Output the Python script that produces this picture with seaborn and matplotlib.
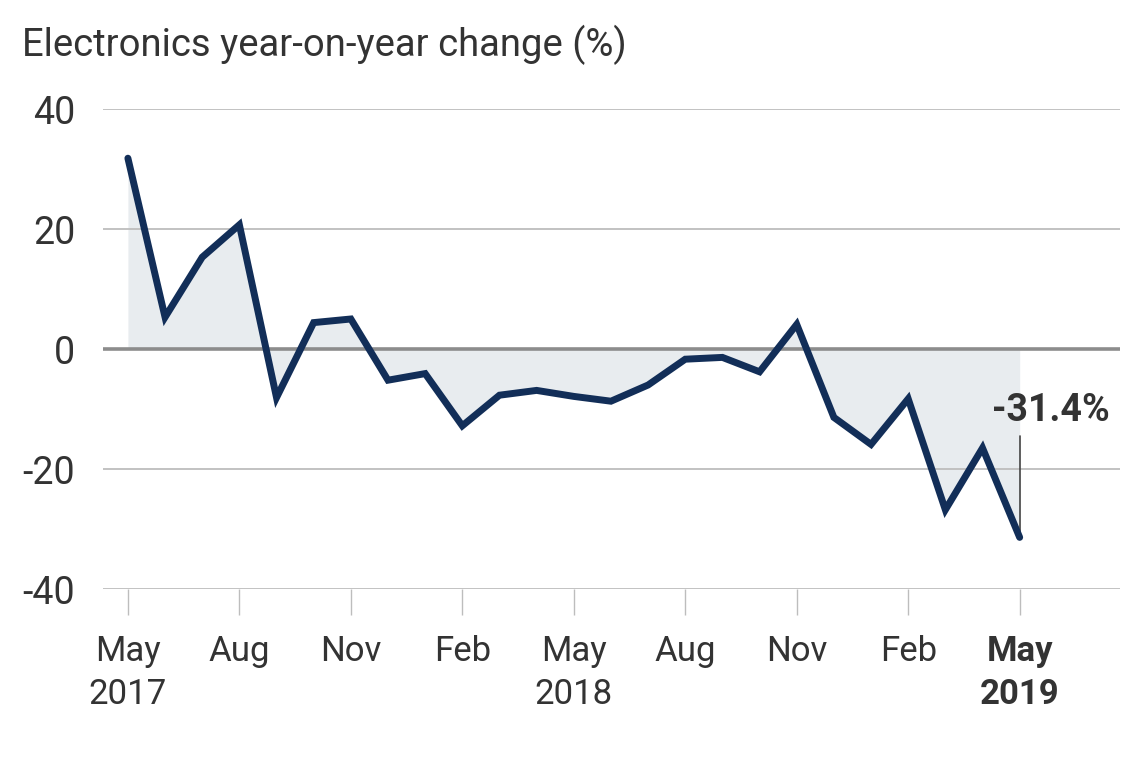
import matplotlib
matplotlib.use("Agg")
import matplotlib.pyplot as plt
import seaborn as sns
import pandas as pd

months = ["May 2017", "Jun 2017", "Jul 2017", "Aug 2017", "Sep 2017", "Oct 2017",
          "Nov 2017", "Dec 2017", "Jan 2018", "Feb 2018", "Mar 2018", "Apr 2018",
          "May 2018", "Jun 2018", "Jul 2018", "Aug 2018", "Sep 2018", "Oct 2018",
          "Nov 2018", "Dec 2018", "Jan 2019", "Feb 2019", "Mar 2019", "Apr 2019",
          "May 2019"]
values = [31.8, 5.3, 15.3, 20.7, -8.1, 4.4, 5.0, -5.2, -4.1, -12.8, -7.7, -6.9,
          -7.9, -8.7, -6.0, -1.7, -1.4, -3.8, 4.1, -11.4, -15.9, -8.3, -26.8, -16.5,
          -31.4]
tick_labels = ["May\n2017", "Aug", "Nov", "Feb", "May\n2018", "Aug", "Nov", "Feb", "May\n2019"]
y_ticks = [40, 20, 0, -20, -40]
title = "Electronics year-on-year change (%)"
annotation = "-31.4%"

sns.set_theme(style="white")
plt.rcParams["font.family"] = ["Roboto", "DejaVu Sans"]

df = pd.DataFrame({"idx": range(len(months)), "month": months, "value": values})

fig = plt.figure(figsize=(11.4, 7.6), dpi=100)
ax = fig.add_axes([103 / 1140, 1 - 589 / 760, (1120 - 103) / 1140, (589 - 109) / 760])

line_color = "#122e58"
text_color = "#333333"

ax.fill_between(df["idx"], df["value"], 0, color="#e8ecef", linewidth=0, zorder=1)
for yv in y_ticks:
    if yv == 0:
        ax.axhline(yv, color="#8c8c8c", linewidth=2.6, zorder=2)
    else:
        ax.axhline(yv, color="#bdbdbd", linewidth=1.3, zorder=2)

sns.lineplot(data=df, x="idx", y="value", ax=ax, color=line_color, linewidth=5,
             zorder=4, solid_joinstyle="miter")

ax.set_xlim(-0.67, 26.7)
ax.set_ylim(-40, 40)
for s in ax.spines.values():
    s.set_visible(False)

tick_pos = list(range(0, len(months), 3))
ax.set_xticks(tick_pos)
ax.set_xticklabels(tick_labels)
ax.tick_params(axis="x", length=19, width=1.0, color="#bdbdbd", pad=14,
               labelsize=25, labelcolor=text_color, direction="out", bottom=True)
for lab in ax.get_xticklabels():
    lab.set_linespacing(1.4)
ax.get_xticklabels()[-1].set_fontweight("bold")

ax.set_yticks(y_ticks)
ax.set_yticklabels([str(v) for v in y_ticks])
ax.tick_params(axis="y", length=0, pad=20, labelsize=27, labelcolor=text_color)
ax.set_xlabel("")
ax.set_ylabel("")

# annotation
last = len(values) - 1
ax.plot([last, last], [values[last], -14.5], color="#444444", linewidth=1.2, zorder=3)
ax.text(last + 0.85, -10.2, annotation, fontsize=27, fontweight="bold",
        color=text_color, ha="center", va="center", zorder=5)

fig.text(22 / 1140, 1 - 45 / 760, title, fontsize=27.5, color=text_color,
         ha="left", va="center")

fig.savefig("out.png", dpi=100, facecolor="white")
